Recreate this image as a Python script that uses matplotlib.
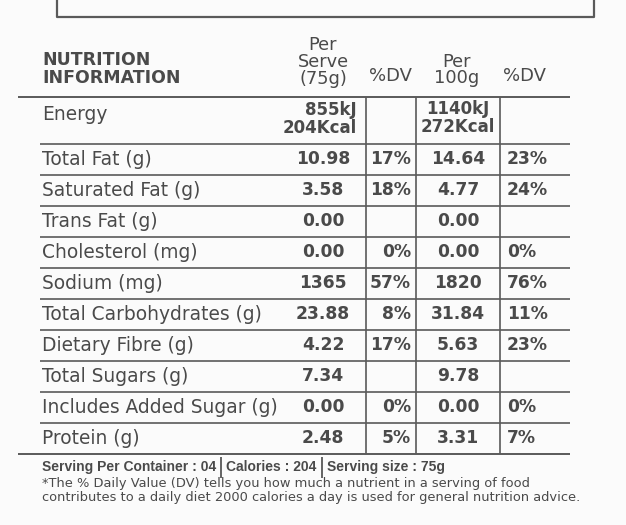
import matplotlib
matplotlib.use("Agg")
import matplotlib.pyplot as plt

# table data
nutrients = ["Total Fat (g)", "Saturated Fat (g)", "Trans Fat (g)", "Cholesterol (mg)",
             "Sodium (mg)", "Total Carbohydrates (g)", "Dietary Fibre (g)", "Total Sugars (g)",
             "Includes Added Sugar (g)", "Protein (g)"]
per_serve = ["10.98", "3.58", "0.00", "0.00", "1365", "23.88", "4.22", "7.34", "0.00", "2.48"]
dv_serve = ["17%", "18%", "", "0%", "57%", "8%", "17%", "", "0%", "5%"]
per_100g = ["14.64", "4.77", "0.00", "0.00", "1820", "31.84", "5.63", "9.78", "0.00", "3.31"]
dv_100g = ["23%", "24%", "", "0%", "76%", "11%", "23%", "", "0%", "7%"]
energy_serve = ["855kJ", "204Kcal"]
energy_100g = ["1140kJ", "272Kcal"]

footer = ["Serving Per Container : 04", "Calories : 204", "Serving size : 75g"]
footnote = ["*The % Daily Value (DV) tells you how much a nutrient in a serving of food",
            "contributes to a daily diet 2000 calories a day is used for general nutrition advice."]

TXT = "#4a4a4a"
LINE = "#5a5a5a"

fig = plt.figure(figsize=(6.26, 5.25), dpi=100, facecolor="#fbfbfb")
ax = fig.add_axes([0, 0, 1, 1])
ax.set_xlim(0, 626)
ax.set_ylim(525, 0)
ax.axis("off")

# box at the top (cut off)
ax.plot([57, 57, 594, 594], [-5, 17, 17, -5], color=LINE, lw=1.6)

# title + column headers
ax.text(42, 69, "NUTRITION\nINFORMATION", fontsize=12.5, fontweight="bold", color=TXT,
        va="center", linespacing=1.05)
ax.text(323, 62, "Per\nServe\n(75g)", fontsize=12.8, color=TXT, ha="center", va="center",
        linespacing=0.9)
ax.text(457, 70, "Per\n100g", fontsize=12.8, color=TXT, ha="center", va="center",
        linespacing=0.9)
ax.text(391, 76, "%DV", fontsize=13, color=TXT, ha="center", va="center")
ax.text(525, 76, "%DV", fontsize=13, color=TXT, ha="center", va="center")

# grid lines
top, energy_bottom, row_h = 97, 144, 30.95
n = len(nutrients)
bottom = energy_bottom + row_h * n
ax.hlines([top, bottom], 18, 570, color=LINE, lw=1.4)
ax.hlines([energy_bottom + row_h * i for i in range(n)], 40, 570, color=LINE, lw=1.2)
ax.vlines([366, 416, 500], top, bottom, color=LINE, lw=1.2)

# energy row
ax.text(42, 115, "Energy", fontsize=13.4, color=TXT, va="center")
ax.text(357, 119, "\n".join(energy_serve), fontsize=12, fontweight="bold", color=TXT,
        ha="right", va="center", multialignment="right", linespacing=1.05)
ax.text(458, 118, "\n".join(energy_100g), fontsize=12, fontweight="bold", color=TXT,
        ha="center", va="center", linespacing=1.05)

for i, name in enumerate(nutrients):
    y = energy_bottom + row_h * (i + 0.5)
    ax.text(42, y, name, fontsize=13.4, color=TXT, va="center")
    ax.text(323, y, per_serve[i], fontsize=12.3, fontweight="bold", color=TXT, ha="center", va="center")
    ax.text(411, y, dv_serve[i], fontsize=12.3, fontweight="bold", color=TXT, ha="right", va="center")
    ax.text(458, y, per_100g[i], fontsize=12.3, fontweight="bold", color=TXT, ha="center", va="center")
    ax.text(507, y, dv_100g[i], fontsize=12.3, fontweight="bold", color=TXT, ha="left", va="center")

# footer
fam = ["Liberation Sans", "DejaVu Sans"]
x = 42
for k, s in enumerate(footer):
    t = ax.text(x, 467, s, fontsize=10.0, fontweight="bold", color=TXT, va="center", family=fam)
    fig.canvas.draw()
    bb = t.get_window_extent()
    x = bb.x1 + 5
    if k < len(footer) - 1:
        ax.vlines(x, 457, 478, color=TXT, lw=1.2)
        x += 5
ax.text(42, 483, footnote[0], fontsize=9.4, color=TXT, va="center")
ax.text(42, 498, footnote[1], fontsize=9.4, color=TXT, va="center")

fig.savefig("out.png", dpi=100, facecolor=fig.get_facecolor())
